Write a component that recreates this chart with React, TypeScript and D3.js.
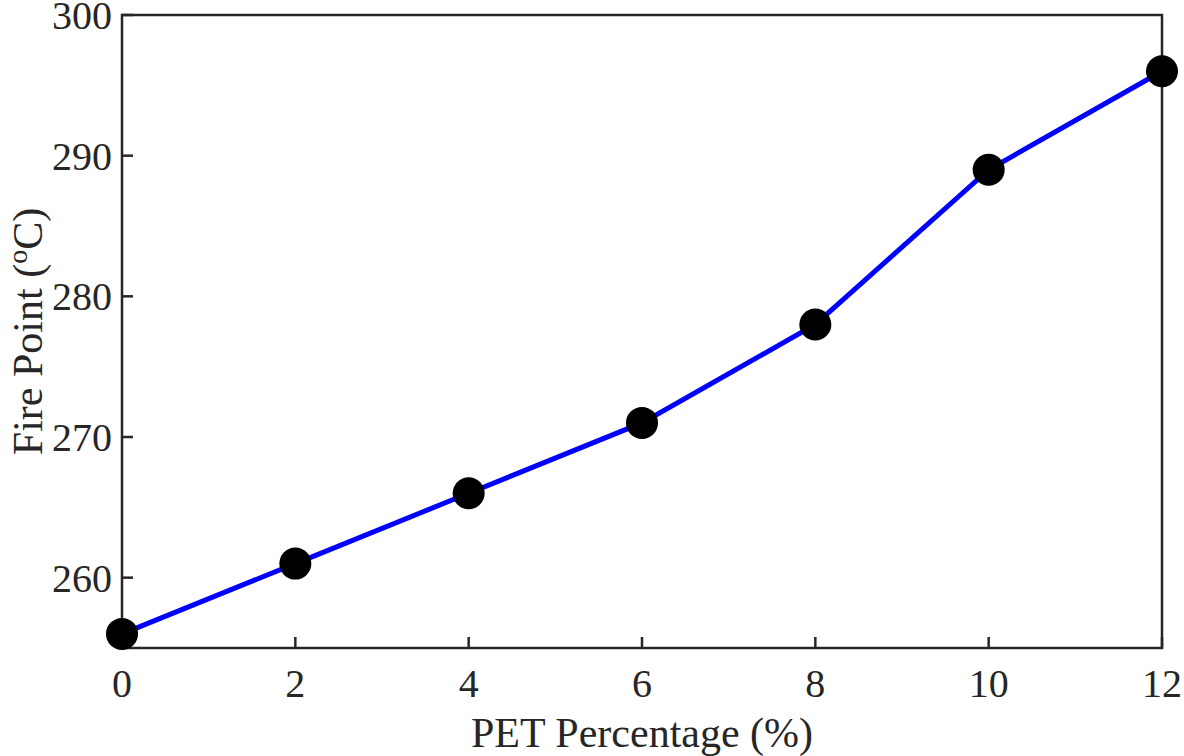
import React, { useEffect, useRef } from "react";
import * as d3 from "d3";

const pet = [0, 2, 4, 6, 8, 10, 12];
const firePoint = [256, 261, 266, 271, 278, 289, 296];
const xTicks = [0, 2, 4, 6, 8, 10, 12];
const yTicks = [260, 270, 280, 290, 300];

const W = 1184;
const H = 756;
const M = { left: 122, right: 22, top: 15, bottom: 108 };
const FONT = "'Liberation Serif', 'Times New Roman', serif";

export default function App() {
  const ref = useRef<SVGSVGElement>(null);
  useEffect(() => {
    document.body.style.margin = "0";
    const svg = d3.select(ref.current);
    svg.selectAll("*").remove();
    const x = d3.scaleLinear().domain([0, 12]).range([M.left, W - M.right]);
    const y = d3.scaleLinear().domain([255, 300]).range([H - M.bottom, M.top]);
    const axisColor = "#262626";

    const line = d3
      .line<number>()
      .x((_, i) => x(pet[i]))
      .y((d) => y(d));
    svg
      .append("path")
      .datum(firePoint)
      .attr("d", line)
      .attr("fill", "none")
      .attr("stroke", "#0000ff")
      .attr("stroke-width", 5);

    const x0 = x(0), x1 = x(12), y0 = y(255), y1 = y(300);
    svg
      .append("rect")
      .attr("x", x0)
      .attr("y", y1)
      .attr("width", x1 - x0)
      .attr("height", y0 - y1)
      .attr("fill", "none")
      .attr("stroke", axisColor)
      .attr("stroke-width", 2.5);

    const tl = 11;
    svg
      .selectAll(".xt")
      .data(xTicks)
      .enter()
      .append("line")
      .attr("x1", (d) => x(d))
      .attr("x2", (d) => x(d))
      .attr("y1", y0)
      .attr("y2", y0 - tl)
      .attr("stroke", axisColor)
      .attr("stroke-width", 2.5);
    svg
      .selectAll(".yt")
      .data(yTicks)
      .enter()
      .append("line")
      .attr("x1", x0)
      .attr("x2", x0 + tl)
      .attr("y1", (d) => y(d))
      .attr("y2", (d) => y(d))
      .attr("stroke", axisColor)
      .attr("stroke-width", 2.5);

    svg
      .selectAll(".xl")
      .data(xTicks)
      .enter()
      .append("text")
      .attr("x", (d) => x(d))
      .attr("y", 697)
      .attr("text-anchor", "middle")
      .attr("font-family", FONT)
      .attr("font-size", 40)
      .attr("fill", axisColor)
      .text((d) => String(d));
    svg
      .selectAll(".yl")
      .data(yTicks)
      .enter()
      .append("text")
      .attr("x", 112)
      .attr("y", (d) => y(d) + 14)
      .attr("text-anchor", "end")
      .attr("font-family", FONT)
      .attr("font-size", 40)
      .attr("fill", axisColor)
      .text((d) => String(d));

    svg
      .append("text")
      .attr("x", (x0 + x1) / 2)
      .attr("y", 747)
      .attr("text-anchor", "middle")
      .attr("font-family", FONT)
      .attr("font-size", 42)
      .attr("fill", axisColor)
      .text("PET Percentage (%)");

    const yl = svg
      .append("text")
      .attr("transform", `translate(42,${(y0 + y1) / 2}) rotate(-90)`)
      .attr("text-anchor", "middle")
      .attr("font-family", FONT)
      .attr("font-size", 42)
      .attr("fill", axisColor);
    yl.append("tspan").text("Fire Point (");
    yl.append("tspan").attr("font-size", 28).attr("dy", -15).text("o");
    yl.append("tspan").attr("dy", 15).text("C)");

    svg
      .selectAll(".pt")
      .data(firePoint)
      .enter()
      .append("circle")
      .attr("cx", (_, i) => x(pet[i]))
      .attr("cy", (d) => y(d))
      .attr("r", 16)
      .attr("fill", "#000");
  }, []);
  return (
    <svg
      ref={ref}
      width={W}
      height={H}
      style={{ position: "absolute", left: 0, top: 0, background: "#fff" }}
    />
  );
}
